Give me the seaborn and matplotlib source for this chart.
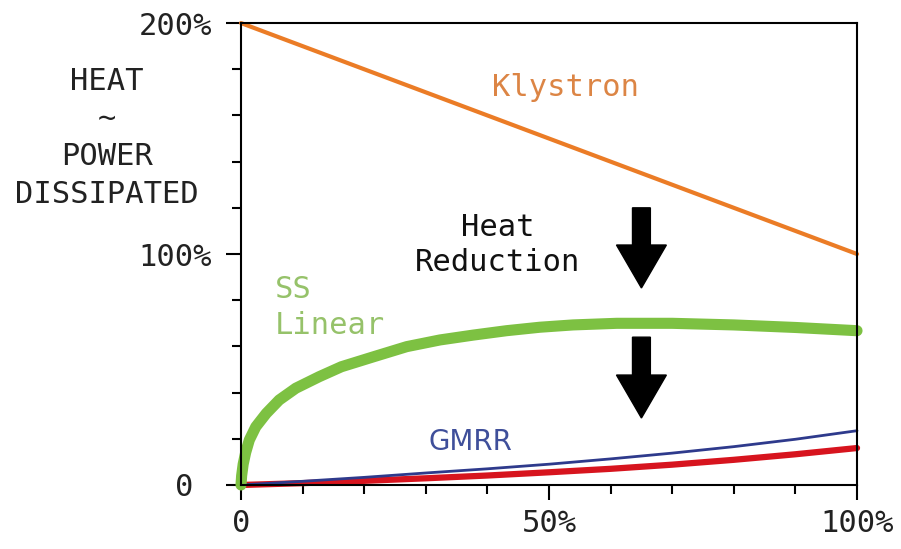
import seaborn as sns
import matplotlib.pyplot as plt
from matplotlib.ticker import MultipleLocator, FixedLocator

# values (x = % output, y = % heat)
klystron_x = [0, 100]
klystron_y = [200, 100]

ss_x = [0, 0.1, 0.35, 0.75, 1.35, 2.4, 4.1, 6.2, 8.9, 12.7, 16.3, 21.5, 26.9, 32.3,
        37.7, 43.1, 48.5, 53.9, 61, 70, 80, 90, 100]
ss_y = [0, 4, 9, 14, 19.5, 25.2, 31, 36.8, 41.9, 46.9, 51.2, 55.5, 59.9, 62.8,
        64.9, 66.8, 68.3, 69.3, 70, 70, 69.3, 68.2, 66.8]

gmrr_x = [0, 10, 20, 30, 40, 50, 60, 70, 80, 90, 100]
gmrr_y = [0, 1.6, 3.3, 5.2, 7.0, 9.0, 11.3, 13.8, 16.6, 19.8, 23.5]

red_x = [0, 10, 20, 30, 40, 50, 60, 70, 80, 90, 100]
red_y = [0, 0.8, 1.8, 2.9, 4.1, 5.5, 7.0, 8.8, 10.9, 13.3, 16]

y_ticks = [0, 100, 200]
y_labels = ['0 ', '100%', '200%']
x_ticks = [0, 50, 100]
x_labels = ['0', '50%', '100%']

# arrows: (x, top, bottom)
arrows = [(65, 120, 85.3), (65, 64, 29)]

sns.set_theme(style='white')
plt.rcParams['font.family'] = ['DejaVu Sans Mono', 'DejaVu Sans']

fig = plt.figure(figsize=(9.01, 5.49), dpi=100)
ax = fig.add_axes([0.2675, 0.1166, 0.6837, 0.8414])

sns.lineplot(x=klystron_x, y=klystron_y, ax=ax, color='#EB7C26', linewidth=3, clip_on=False)
sns.lineplot(x=red_x, y=red_y, ax=ax, color='#D7141E', linewidth=4.5, clip_on=False)
sns.lineplot(x=gmrr_x, y=gmrr_y, ax=ax, color='#2E3A8C', linewidth=2, clip_on=False)
sns.lineplot(x=ss_x, y=ss_y, ax=ax, color='#7DC142', linewidth=8,
             solid_capstyle='round', solid_joinstyle='round', clip_on=False)

for x, top, bot in arrows:
    ax.arrow(x, top, 0, bot - top, width=2.9, head_width=8.1, head_length=18.6,
             length_includes_head=True, color='black', zorder=5)

ax.set_xlim(0, 100)
ax.set_ylim(0, 200)

ax.yaxis.set_major_locator(FixedLocator(y_ticks))
ax.set_yticklabels(y_labels)
ax.yaxis.set_minor_locator(MultipleLocator(20))
ax.xaxis.set_major_locator(FixedLocator(x_ticks))
ax.set_xticklabels(x_labels)
ax.xaxis.set_minor_locator(MultipleLocator(10))

ax.tick_params(which='both', direction='out', color='black', width=1.5,
               left=True, bottom=True, labelsize=22, labelcolor='#222222')
ax.tick_params(which='major', length=11)
ax.tick_params(which='minor', length=6.5)
ax.tick_params(axis='y', pad=10)
ax.tick_params(axis='x', pad=6)

for s in ax.spines.values():
    s.set_color('black')
    s.set_linewidth(1.5)

ax.text(52.6, 172, 'Klystron', color='#DC8545', fontsize=22, ha='center', va='center')
ax.text(41.6, 104, 'Heat\nReduction', color='#111111', fontsize=22,
        ha='center', va='center', linespacing=1.25)
ax.text(5.5, 77, 'SS\nLinear', color='#96C26A', fontsize=22,
        ha='left', va='center', linespacing=1.3)
ax.text(30.4, 18.6, 'GMRR', color='#3F4F9A', fontsize=20, ha='left', va='center',
        family=['Liberation Sans Narrow', 'DejaVu Sans'])

fig.text(0.119, 0.749, 'HEAT\n~\nPOWER\nDISSIPATED', color='#222222', fontsize=22,
         ha='center', va='center', linespacing=1.38)

fig.savefig('out.png', dpi=100, facecolor='white')
